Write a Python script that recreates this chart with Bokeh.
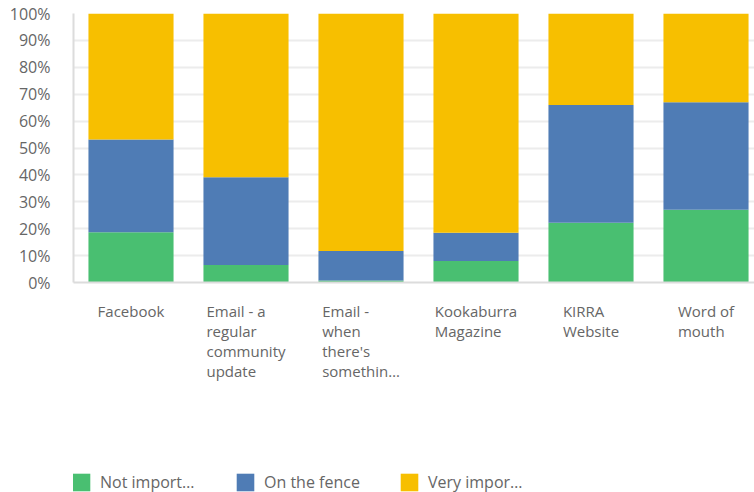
from bokeh.plotting import figure
from bokeh.models import Range1d, FixedTicker, Legend, LegendItem, ColumnDataSource
from bokeh.layouts import column
from bokeh.embed import file_html
from bokeh.resources import INLINE

categories = ["Facebook", "Email - a\nregular\ncommunity\nupdate", "Email -\nwhen\nthere's\nsomethin\u2026",
              "Kookaburra\nMagazine", "KIRRA\nWebsite", "Word of\nmouth"]
not_important = [18.7, 6.5, 0.7, 8.0, 22.2, 27.0]
on_the_fence = [34.5, 32.6, 11.0, 10.5, 43.8, 40.0]
very_important = [46.8, 60.9, 88.3, 81.5, 34.0, 33.0]
series_names = ["Not import\u2026", "On the fence", "Very impor\u2026"]
y_ticks = [0, 10, 20, 30, 40, 50, 60, 70, 80, 90, 100]

colors = ["#49bf71", "#4f7cb5", "#f7bf00"]
FONT = "Open Sans"
TEXT = "#666666"

W = 754
LEFT = 73
STEP = 115  # px per category
H1 = 300
H2 = 492 - H1

xs = list(range(len(categories)))
source = ColumnDataSource(dict(x=xs, a=not_important, b=on_the_fence, c=very_important))

xr = Range1d(-0.5, -0.5 + (W - LEFT) / STEP)
p = figure(width=W, height=H1, output_backend="svg", toolbar_location=None,
           x_range=xr, y_range=Range1d(0, 100),
           min_border_left=LEFT, min_border_right=0, min_border_top=13, min_border_bottom=18)
p.outline_line_color = None

rs = p.vbar_stack(["a", "b", "c"], x="x", width=0.74, color=colors, line_color=None, source=source)

p.xgrid.grid_line_color = None
p.ygrid.grid_line_color = "#ececec"
p.ygrid.grid_line_width = 2
p.ygrid.ticker = FixedTicker(ticks=y_ticks)

p.yaxis.ticker = FixedTicker(ticks=y_ticks)
p.yaxis.major_label_overrides = {t: f"{t}%" for t in y_ticks}
p.yaxis.major_label_text_font = FONT
p.yaxis.major_label_text_font_size = "16px"
p.yaxis.major_label_text_color = TEXT
p.yaxis.major_label_standoff = 17
p.yaxis.major_tick_line_color = None
p.yaxis.minor_tick_line_color = None
p.yaxis.axis_line_color = "#dcdcdc"
p.yaxis.axis_line_width = 2

p.xaxis.ticker = FixedTicker(ticks=[])
p.xaxis.major_label_text_font_size = "0px"
p.xaxis.major_tick_line_color = None
p.xaxis.minor_tick_line_color = None
p.xaxis.axis_line_color = "#dcdcdc"
p.xaxis.axis_line_width = 2

# lower panel: category labels and legend
p2 = figure(width=W, height=H2, output_backend="svg", toolbar_location=None,
            x_range=xr, y_range=Range1d(H2, 0),
            x_axis_type=None, y_axis_type=None,
            min_border_left=LEFT, min_border_right=0, min_border_top=0, min_border_bottom=0)
p2.outline_line_color = None
p2.grid.grid_line_color = None

lab_src = ColumnDataSource(dict(x=xs, y=[0] * len(xs), text=categories))
p2.text(x="x", y="y", text="text", source=lab_src, anchor="top_center", text_align="left",
        text_font={"value": FONT}, text_font_size="15px", text_color=TEXT, text_line_height=1.0)

# legend swatches: hidden renderers used only for the legend
dummies = [p2.vbar(x=[0], top=[1], bottom=[0], width=0.5, color=c, line_color=None, visible=False)
           for c in colors]
legend = Legend(items=[LegendItem(label=n, renderers=[r]) for n, r in zip(series_names, dummies)],
                orientation="horizontal", location=(-3, -1),
                glyph_width=22, glyph_height=22, label_standoff=8, label_width=134, spacing=0,
                label_text_font=FONT, label_text_font_size="16px", label_text_color=TEXT,
                border_line_color=None, background_fill_alpha=0, padding=10,
                inactive_fill_alpha=0)
p2.add_layout(legend, "center")

layout = column(p, p2, spacing=0)
open("out.html", "w").write(file_html(layout, INLINE))
